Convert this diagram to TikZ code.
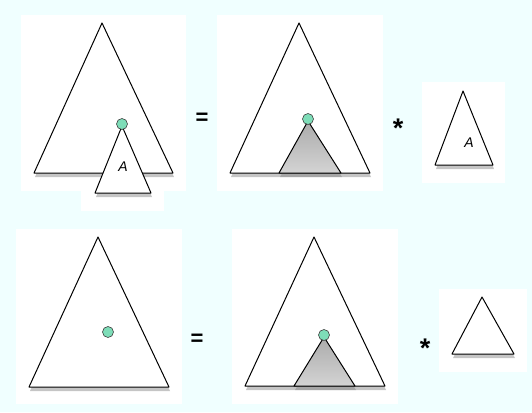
\documentclass[tikz,border=0pt]{standalone}
\usepackage{fontspec}
\setmainfont{Liberation Sans}
\usetikzlibrary{shadows}

\definecolor{bgcyan}{HTML}{F0FFFF}
\definecolor{dotgreen}{HTML}{7EDDB8}

\begin{document}
\begin{tikzpicture}[
  x=1pt, y=-1pt,
  panel/.style={fill=white, draw=none},
  treetri/.style={draw=black, line width=1pt, fill=white, line join=round,
                  drop shadow={shadow xshift=1pt, shadow yshift=-4pt, opacity=0.45}},
  subtri/.style={treetri, top color=black!33, bottom color=black!17},
  hole/.style={circle, fill=dotgreen, draw=black!75, line width=0.6pt,
               minimum width=11pt, minimum height=10pt, inner sep=0pt},
  op/.style={font=\bfseries\fontsize{22}{22}\selectfont, inner sep=0pt},
  star/.style={font=\bfseries\fontsize{27}{27}\selectfont, inner sep=0pt},
  lbl/.style={font=\itshape\fontsize{14}{14}\selectfont, inner sep=0pt}
]
% background and panels
\fill[bgcyan] (0,0) rectangle (532,412);
\fill[panel] (21,15) rectangle (186,191);
\fill[panel] (81,190) rectangle (164,211);
\fill[panel] (217,15) rectangle (383,191);
\fill[panel] (422,82) rectangle (505,183);
\fill[panel] (16,229) rectangle (182,404);
\fill[panel] (232,229) rectangle (398,404);
\fill[panel] (439,289) rectangle (527,372);

% top row: tree with subtree A plugged in
\path[treetri] (102,23) -- (34,173) -- (173,173) -- cycle;
\path[treetri] (122,126) -- (95,193) -- (151,193) -- cycle;
\node[hole] (holeA) at (122,124) {};
\node[lbl] (labA) at (123,167) {A};
\node[op] (eqtop) at (202,119) {=};

\path[treetri] (299,23) -- (230,173) -- (370,173) -- cycle;
\path[subtri] (308,121) -- (279,173) -- (341,173) -- cycle;
\node[hole] (holeB) at (308,119) {};
\node[star] (startop) at (398,128) {*};

\path[treetri] (463,91) -- (435,165) -- (493,165) -- cycle;
\node[lbl] (labB) at (469,143) {A};

% bottom row: tree with a hole
\path[treetri] (98,237) -- (29,387) -- (169,387) -- cycle;
\node[hole] (holeC) at (108,332) {};
\node[op] (eqbot) at (197,340) {=};

\path[treetri] (314,237) -- (245,386) -- (385,386) -- cycle;
\path[subtri] (324,337) -- (294,386) -- (355,386) -- cycle;
\node[hole] (holeD) at (324,335) {};
\node[star] (starbot) at (425,348) {*};

\path[treetri] (482,297) -- (452,354) -- (514,354) -- cycle;
\end{tikzpicture}
\end{document}
